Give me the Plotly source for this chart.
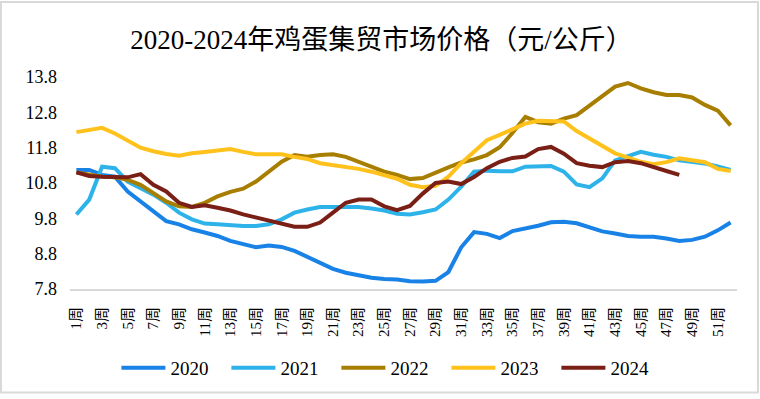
import plotly.graph_objects as go

weeks = [f"{i}周" for i in range(1, 53)]

y2020 = [11.17, 11.17, 11.03, 10.98, 10.56, 10.28, 10.00, 9.72, 9.63, 9.49,
         9.40, 9.30, 9.16, 9.07, 8.98, 9.03, 8.99, 8.88, 8.72, 8.56,
         8.37, 8.26, 8.18, 8.12, 8.08, 8.07, 8.02, 8.01, 8.03, 8.28,
         8.98, 9.41, 9.36, 9.24, 9.44, 9.51, 9.59, 9.69, 9.70, 9.66,
         9.54, 9.43, 9.37, 9.30, 9.28, 9.28, 9.23, 9.16, 9.19, 9.28,
         9.46, 9.68]
y2021 = [9.91, 10.33, 11.26, 11.22, 10.84, 10.66, 10.47, 10.24, 9.96, 9.77,
         9.65, 9.63, 9.60, 9.58, 9.58, 9.63, 9.77, 9.96, 10.05, 10.12,
         10.12, 10.12, 10.12, 10.08, 10.02, 9.93, 9.91, 9.97, 10.05, 10.33,
         10.70, 11.12, 11.15, 11.13, 11.13, 11.26, 11.28, 11.28, 11.12, 10.76,
         10.68, 10.93, 11.44, 11.56, 11.68, 11.60, 11.54, 11.44, 11.40, 11.35,
         11.27, 11.17]
y2022 = [11.10, 11.03, 10.98, 10.96, 10.89, 10.75, 10.52, 10.28, 10.14, 10.12,
         10.24, 10.42, 10.55, 10.64, 10.84, 11.11, 11.40, 11.59, 11.54, 11.59,
         11.61, 11.54, 11.40, 11.24, 11.12, 11.03, 10.91, 10.94, 11.10, 11.24,
         11.38, 11.47, 11.59, 11.81, 12.22, 12.67, 12.52, 12.48, 12.62, 12.72,
         12.99, 13.27, 13.53, 13.63, 13.48, 13.37, 13.29, 13.29, 13.22, 13.01,
         12.85, 12.43]
y2023 = [12.24, 12.29, 12.36, 12.20, 12.01, 11.80, 11.70, 11.62, 11.57, 11.64,
         11.68, 11.73, 11.76, 11.68, 11.61, 11.61, 11.61, 11.54, 11.48, 11.36,
         11.31, 11.27, 11.20, 11.12, 11.03, 10.92, 10.75, 10.68, 10.72, 10.98,
         11.36, 11.68, 12.01, 12.16, 12.33, 12.48, 12.56, 12.56, 12.54, 12.27,
         12.06, 11.82, 11.64, 11.52, 11.40, 11.33, 11.39, 11.50, 11.45, 11.39,
         11.20, 11.14]
y2024 = [11.10, 11.00, 10.98, 10.96, 10.96, 11.05, 10.75, 10.56, 10.24, 10.12,
         10.17, 10.10, 10.02, 9.91, 9.82, 9.72, 9.65, 9.56, 9.56, 9.68,
         9.96, 10.24, 10.33, 10.33, 10.14, 10.03, 10.15, 10.50, 10.80, 10.84,
         10.77, 10.97, 11.22, 11.40, 11.51, 11.55, 11.76, 11.82, 11.63, 11.36,
         11.29, 11.25, 11.39, 11.42, 11.36, 11.26, 11.14, 11.03]

series_names = ["2020", "2021", "2022", "2023", "2024"]
series_values = [y2020, y2021, y2022, y2023, y2024]
series_colors = ["#1982e6", "#2db3ea", "#a87e00", "#ffc21c", "#7a1f16"]

y_ticks = [7.8, 8.8, 9.8, 10.8, 11.8, 12.8, 13.8]
x_ticks = weeks[::2]

FONT = "'Liberation Serif', 'Noto Sans CJK SC'"

fig = go.Figure()
for name, vals, col in zip(series_names, series_values, series_colors):
    fig.add_trace(go.Scatter(
        x=weeks[:len(vals)], y=vals, name=name, mode="lines",
        line=dict(color=col, width=4), hoverinfo="skip"))

W, H = 760, 399
L, R, T, B = 70, 23, 77, 107
pw = W - L - R
ph = H - T - B

fig.update_layout(
    width=W, height=H,
    margin=dict(l=L, r=R, t=T, b=B),
    paper_bgcolor="white", plot_bgcolor="white",
    title=dict(text="2020-2024年鸡蛋集贸市场价格（元/公斤）",
               x=0.502, xref="container", xanchor="center",
               y=1 - 40 / H, yref="container", yanchor="middle",
               font=dict(family=FONT, size=27, color="black")),
    xaxis=dict(type="category", categoryorder="array", categoryarray=weeks,
               range=[-0.5, 51.5], tickmode="array", tickvals=x_ticks,
               tickangle=-90, showgrid=False, zeroline=False,
               showline=True, linecolor="#d9d9d9", linewidth=2,
               ticks="", ticklabelstandoff=10,
               tickfont=dict(family=FONT, size=15, color="black")),
    yaxis=dict(range=[7.8, 13.8], tickmode="array", tickvals=y_ticks,
               ticktext=[f"{v:.1f}" for v in y_ticks],
               showgrid=False, zeroline=False, showline=False, ticks="",
               ticklabelstandoff=12,
               tickfont=dict(family=FONT, size=18, color="black")),
    showlegend=True,
    legend=dict(orientation="h", xref="container", yref="container",
                x=0.515, xanchor="center", y=(H - 368) / H, yanchor="middle",
                font=dict(family=FONT, size=19, color="black"),
                itemwidth=44, entrywidth=51, entrywidthmode="pixels",
                bgcolor="rgba(0,0,0,0)"),
    shapes=[dict(type="rect", xref="paper", yref="paper",
                 x0=(1 - L) / pw, x1=(W - 2 - L) / pw,
                 y0=-(H - 2 - T - ph) / ph, y1=1 + (T - 1) / ph,
                 line=dict(color="#d9d9d9", width=2), fillcolor="rgba(0,0,0,0)",
                 layer="below")],
)

fig.write_html("out.html", config={"displayModeBar": False},
               post_script="document.body.style.margin='0';document.body.style.overflow='hidden';")
